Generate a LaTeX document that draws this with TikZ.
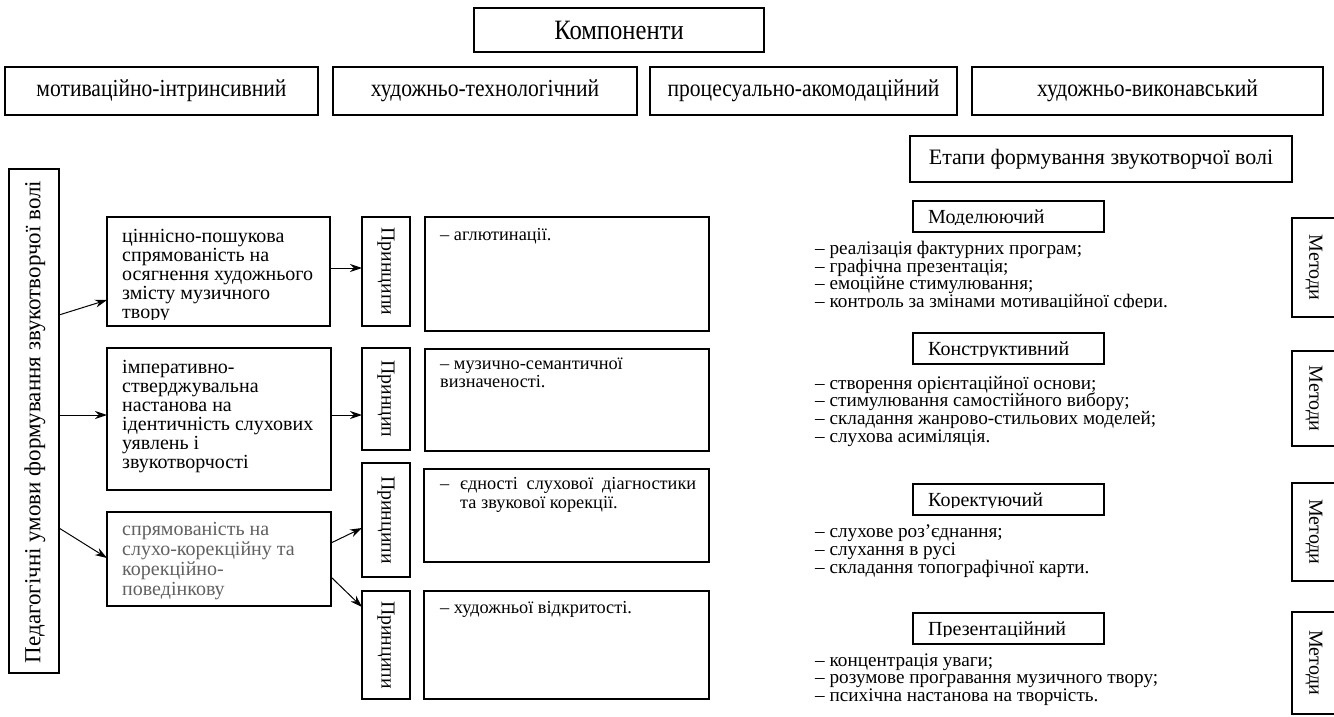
\documentclass[tikz,border=0pt]{standalone}
\usepackage{fontspec}
\setmainfont{Liberation Serif}
\newfontfamily\condfont{Liberation Serif}[FakeStretch=0.88]
\usetikzlibrary{arrows.meta}
\newcommand\mkbox[5]{\node[boxn,anchor=north west,minimum width={(#4)-(#2)},minimum height={(#5)-(#3)}] (#1) at (#2,#3) {};}
\begin{document}
\begin{tikzpicture}[x=1pt,y=-1pt,
  boxn/.style={draw,line width=1.1pt,inner sep=0pt,outer sep=0pt,fill=none},
  arr/.style={line width=1pt,-{Stealth[length=12pt,width=8pt]}},
  toptxt/.style={inner sep=0pt,font=\condfont\fontsize{28}{30}\selectfont},
  rowtxt/.style={inner sep=0pt,font=\condfont\fontsize{24.5}{26}\selectfont},
  lefttxt/.style={inner sep=0pt,anchor=base west,font=\fontsize{20}{21}\selectfont},
  vtxt/.style={inner sep=0pt,font=\fontsize{19.8}{21}\selectfont},
  prtxt/.style={inner sep=0pt,anchor=base west,font=\fontsize{18.3}{19}\selectfont},
  listtxt/.style={inner sep=0pt,anchor=base west,font=\fontsize{19.2}{20}\selectfont},
  stagetxt/.style={inner sep=0pt,anchor=base west,font=\fontsize{20}{21}\selectfont},
  greytxt/.style={text=black!62}
]
\clip (0,0) rectangle (1334,717);
\fill[white] (0,0) rectangle (1334,717);

% top
\mkbox{comp}{474}{8}{764}{52}
\node[toptxt] (compt) at (comp.center) {Компоненти};
\mkbox{r1}{5}{67}{318}{115}
\mkbox{r2}{333}{67}{637}{115}
\mkbox{r3}{650}{67}{957}{115}
\mkbox{r4}{972}{67}{1323}{115}
\node[rowtxt] (r1t) at (r1.center) {мотиваційно-інтринсивний};
\node[rowtxt] (r2t) at (r2.center) {художньо-технологічний};
\node[rowtxt] (r3t) at (r3.center) {процесуально-акомодаційний};
\node[rowtxt] (r4t) at (r4.center) {художньо-виконавський};

% left column
\mkbox{L}{9}{169}{59}{673}
\node[vtxt,rotate=90,font=\fontsize{23}{24}\selectfont] (Lt) at (35,422) {Педагогічні умови формування звукотворчої волі};

\mkbox{A}{107}{217}{330}{326}
\begin{scope}
\clip (107,217) rectangle (330,319);
\foreach \t [count=\i from 0] in {{ціннісно-пошукова},{спрямованість на},{осягнення художнього},{змісту музичного},{твору}}
  \node[lefttxt] (At\i) at (122,242+19.2*\i) {\t};
\end{scope}

\mkbox{B}{107}{348}{331}{490}
\foreach \t [count=\i from 0] in {{імперативно-},{стверджувальна},{настанова на},{ідентичність слухових},{уявлень і},{звукотворчості}}
  \node[lefttxt] (Bt\i) at (122,373+19*\i) {\t};

\mkbox{C}{107}{512}{331}{606}
\foreach \t [count=\i from 0] in {{спрямованість на},{слухо-корекційну та},{корекційно-},{поведінкову}}
  \node[lefttxt,greytxt] (Ct\i) at (122,535+20*\i) {\t};

% principles
\mkbox{P1}{362}{217}{410}{326}
\mkbox{P2}{362}{348}{410}{450}
\mkbox{P3}{362}{463}{410}{577}
\mkbox{P4}{362}{591}{410}{699}
\node[vtxt,rotate=-90] (P1t) at (P1.center) {Принципи};
\node[vtxt,rotate=-90] (P2t) at (P2.center) {Принцип};
\node[vtxt,rotate=-90] (P3t) at (P3.center) {Принципи};
\node[vtxt,rotate=-90] (P4t) at (P4.center) {Принципи};

\mkbox{T1}{425}{217}{709}{331}
\mkbox{T2}{425}{349}{709}{451}
\mkbox{T3}{424}{469}{709}{562}
\mkbox{T4}{424}{591}{709}{699}
\node[prtxt] (T1a) at (440,240) {– аглютинації.};
\node[prtxt] (T2a) at (440,369.5) {– музично-семантичної};
\node[prtxt] (T2b) at (440,387.5) {визначеності.};
\node[prtxt] (T3d) at (440,489.5) {–};
\node[prtxt,text width=236pt,align=justify] (T3a) at (460,489.5) {єдності слухової діагностики\linebreak та звукової корекції.};
\node[prtxt] (T4a) at (440,613.5) {– художньої відкритості.};

% arrows
\draw[arr] (L.east |- 0,315) -- (A.west |- 0,300);
\draw[arr] (L.east |- 0,415) -- (B.west |- 0,415);
\draw[arr] (L.east |- 0,528) -- (C.west |- 0,558);
\draw[arr] (A.east |- 0,268) -- (P1.west |- 0,268);
\draw[arr] (B.east |- 0,415) -- (P2.west |- 0,415);
\draw[arr] (C.east |- 0,543) -- (P3.west |- 0,528);
\draw[arr] (C.east |- 0,577) -- (P4.west |- 0,607);

% right side
\mkbox{E}{910}{136}{1292}{182}
\node[inner sep=0pt,font=\fontsize{22}{24}\selectfont] (Et) at (E.center) {Етапи формування звукотворчої волі};

\mkbox{S1}{913}{201}{1104}{232}
\mkbox{S2}{913}{333}{1104}{364}
\mkbox{S3}{913}{484}{1104}{515}
\mkbox{S4}{913}{613}{1104}{644}
\begin{scope}\clip (913,201) rectangle (1104,224.5);
\node[stagetxt] (S1t) at (928,223) {Моделюючий};\end{scope}
\begin{scope}\clip (913,333) rectangle (1104,356.5);
\node[stagetxt] (S2t) at (928,355) {Конструктивний};\end{scope}
\begin{scope}\clip (913,484) rectangle (1104,507.5);
\node[stagetxt] (S3t) at (928,506) {Коректуючий};\end{scope}
\begin{scope}\clip (913,613) rectangle (1104,636.5);
\node[stagetxt] (S4t) at (928,635) {Презентаційний};\end{scope}

\begin{scope}
\clip (780,236) rectangle (1290,307);
\foreach \t [count=\i from 0] in {{– реалізація фактурних програм;},{– графічна презентація;},{– емоційне стимулювання;},{– контроль за змінами мотиваційної сфери.}}
  \node[listtxt] (M\i) at (815,254.5+17.7*\i) {\t};
\end{scope}
\foreach \t [count=\i from 0] in {{– створення орієнтаційної основи;},{– стимулювання самостійного вибору;},{– складання жанрово-стильових моделей;},{– слухова асиміляція.}}
  \node[listtxt] (K\i) at (815,389+17.7*\i) {\t};
\foreach \t [count=\i from 0] in {{– слухове роз’єднання;},{– слухання в русі},{– складання топографічної карти.}}
  \node[listtxt] (R\i) at (815,537+18*\i) {\t};
\foreach \t [count=\i from 0] in {{– концентрація уваги;},{– розумове програвання музичного твору;},{– психічна настанова на творчість.}}
  \node[listtxt] (Q\i) at (815,666+17.7*\i) {\t};

\mkbox{Me1}{1292}{218}{1345}{317}
\mkbox{Me2}{1292}{351}{1345}{446}
\mkbox{Me3}{1292}{483}{1345}{581}
\mkbox{Me4}{1292}{612}{1345}{714}
\node[vtxt,rotate=-90,font=\fontsize{20}{21}\selectfont] (Me1t) at (1314,267.5) {Методи};
\node[vtxt,rotate=-90,font=\fontsize{20}{21}\selectfont] (Me2t) at (1314,398.5) {Методи};
\node[vtxt,rotate=-90,font=\fontsize{20}{21}\selectfont] (Me3t) at (1314,532) {Методи};
\node[vtxt,rotate=-90,font=\fontsize{20}{21}\selectfont] (Me4t) at (1314,663) {Методи};
\end{tikzpicture}
\end{document}
